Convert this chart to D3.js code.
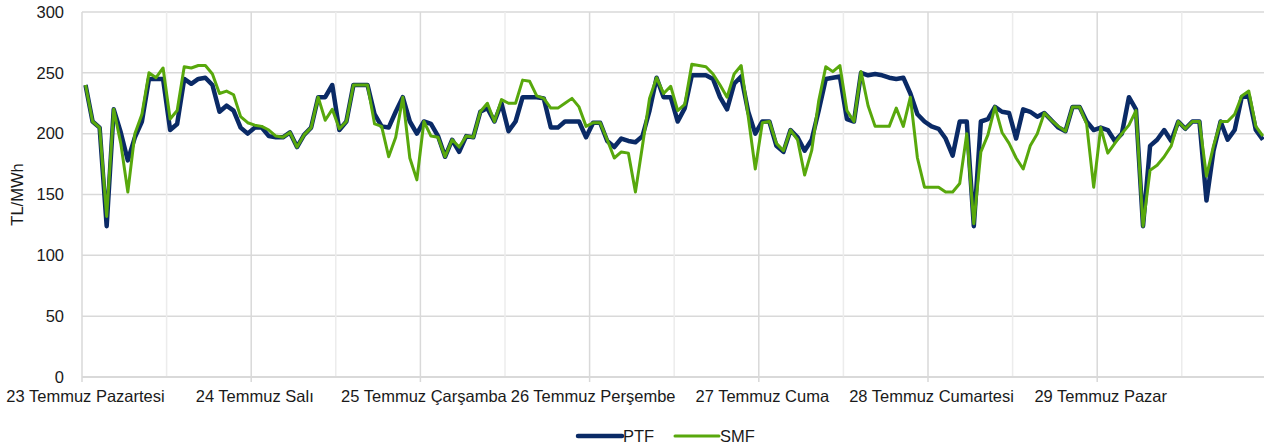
<!DOCTYPE html>
<html>
<head>
<meta charset="utf-8">
<script src="https://cdn.jsdelivr.net/npm/d3@7"></script>
<style>
    body { margin: 0; background: #fff; }
    text { font-family: "Liberation Sans", Arial, sans-serif; fill: #1a1a1a; }
</style>
</head>
<body>
<div id="chart"></div>
<script>
// day labels, one every 24 hours
const dayLabels = ["23 Temmuz Pazartesi", "24 Temmuz Salı", "25 Temmuz Çarşamba", "26 Temmuz Perşembe",
    "27 Temmuz Cuma", "28 Temmuz Cumartesi", "29 Temmuz Pazar"];

const yTicks = [0, 50, 100, 150, 200, 250, 300];

// hourly PTF (TL/MWh)
const ptf = [
    240, 210, 205, 124, 220, 201, 178, 197, 210, 245, 245, 245,
    203, 208, 245, 241, 245, 246, 240, 218, 223, 219, 205, 200,
    205, 205, 198, 197, 197, 201, 189, 199, 205, 230, 230, 240,
    203, 210, 240, 240, 240, 216, 206, 205, 218, 230, 210, 200,
    210, 208, 198, 181, 195, 185, 198, 197, 218, 221, 210, 225,
    202, 210, 230, 230, 230, 229, 205, 205, 210, 210, 210, 197,
    209, 209, 194, 189, 196, 194, 193, 198, 219, 246, 230, 230,
    210, 221, 248, 248, 248, 245, 230, 220, 241, 247, 218, 200,
    210, 210, 190, 185, 203, 197, 186, 195, 219, 245, 246, 247,
    212, 210, 250, 248, 249, 248, 246, 245, 246, 233, 216, 210,
    206, 204, 196, 182, 210, 210, 124, 210, 212, 222, 218, 217,
    196, 220, 218, 214, 217, 211, 205, 202, 222, 222, 210, 203,
    205, 203, 194, 200, 230, 220, 124, 190, 195, 203, 194, 210,
    204, 210, 210, 145, 186, 210, 195, 203, 230, 231, 203, 195
];

// hourly SMF (TL/MWh)
const smf = [
    240, 210, 205, 132, 220, 192, 152, 200, 216, 250, 246, 254,
    212, 219, 255, 254, 256, 256, 249, 233, 235, 232, 214, 209,
    207, 206, 203, 198, 197, 201, 189, 199, 205, 230, 211, 220,
    204, 210, 240, 240, 240, 208, 206, 181, 197, 230, 180, 162,
    210, 198, 197, 181, 195, 189, 198, 197, 218, 225, 210, 228,
    225, 225, 244, 243, 231, 229, 221, 221, 225, 229, 222, 206,
    209, 209, 195, 180, 185, 184, 152, 190, 229, 246, 233, 239,
    219, 224, 257, 256, 255, 249, 240, 230, 249, 256, 214, 171,
    209, 210, 192, 186, 203, 195, 166, 186, 227, 255, 251, 256,
    219, 210, 251, 223, 206, 206, 206, 221, 206, 230, 180, 156,
    156, 156, 152, 152, 159, 200, 126, 185, 199, 222, 201, 192,
    180, 171, 190, 200, 217, 211, 206, 202, 222, 222, 208, 156,
    205, 184, 192, 200, 207, 219, 124, 170, 174, 181, 190, 210,
    204, 210, 210, 165, 190, 210, 210, 216, 231, 235, 206, 198
];

class PriceChart {

    constructor(parentElement) {
        this.parentElement = parentElement;
        this.initVis();
    }

    initVis() {
        let vis = this;

        vis.width = 1264;
        vis.height = 448;
        vis.plot = {left: 82, top: 12, bottom: 377, step: 7.05};
        vis.fontSize = "16.5px";

        vis.svg = d3.select("#" + vis.parentElement).append("svg")
            .attr("width", vis.width)
            .attr("height", vis.height);

        vis.x = d3.scaleLinear()
            .domain([0, ptf.length])
            .range([vis.plot.left, vis.plot.left + ptf.length * vis.plot.step]);

        vis.y = d3.scaleLinear()
            .domain([0, 300])
            .range([vis.plot.bottom, vis.plot.top]);

        // horizontal gridlines
        vis.svg.append("g")
            .selectAll("line")
            .data(yTicks.slice(1))
            .enter()
            .append("line")
            .attr("x1", vis.plot.left)
            .attr("x2", vis.width)
            .attr("y1", d => vis.y(d))
            .attr("y2", d => vis.y(d))
            .style("stroke", "#d9d9d9")
            .style("stroke-width", 1.5);

        // vertical gridlines every 12 hours
        vis.svg.append("g")
            .selectAll("line")
            .data(d3.range(0, ptf.length + 1, 12))
            .enter()
            .append("line")
            .attr("x1", d => vis.x(d))
            .attr("x2", d => vis.x(d))
            .attr("y1", vis.plot.top)
            .attr("y2", vis.plot.bottom)
            .style("stroke", d => d % 24 == 0 ? "#d9d9d9" : "#ececec")
            .style("stroke-width", 1.5);

        // y axis labels
        vis.svg.append("g")
            .selectAll("text")
            .data(yTicks)
            .enter()
            .append("text")
            .attr("x", 64)
            .attr("y", d => vis.y(d))
            .attr("dy", "0.35em")
            .attr("text-anchor", "end")
            .style("font-size", vis.fontSize)
            .text(d => d);

        vis.svg.append("text")
            .attr("transform", `translate(23, ${vis.y(150)}) rotate(-90)`)
            .attr("text-anchor", "middle")
            .style("font-size", vis.fontSize)
            .text("TL/MWh");

        // x axis
        vis.svg.append("line")
            .attr("x1", vis.plot.left)
            .attr("x2", vis.width)
            .attr("y1", vis.plot.bottom)
            .attr("y2", vis.plot.bottom)
            .style("stroke", "#d9d9d9")
            .style("stroke-width", 2);

        vis.svg.append("g")
            .selectAll("line")
            .data(d3.range(0, ptf.length + 1, 24))
            .enter()
            .append("line")
            .attr("x1", d => vis.x(d))
            .attr("x2", d => vis.x(d))
            .attr("y1", vis.plot.bottom)
            .attr("y2", vis.plot.bottom + 5)
            .style("stroke", "#d9d9d9")
            .style("stroke-width", 1.5);

        vis.svg.append("g")
            .selectAll("text")
            .data(dayLabels)
            .enter()
            .append("text")
            .attr("x", (d, i) => vis.x(i * 24 + 0.5))
            .attr("y", 402)
            .attr("text-anchor", "middle")
            .style("font-size", vis.fontSize)
            .text(d => d);

        // series
        let line = d3.line()
            .x((d, i) => vis.x(i + 0.5))
            .y(d => vis.y(d));

        vis.svg.append("path")
            .datum(ptf)
            .attr("d", line)
            .style("fill", "none")
            .style("stroke", "#0a2a66")
            .style("stroke-width", 4.5)
            .style("stroke-linejoin", "round");

        vis.svg.append("path")
            .datum(smf)
            .attr("d", line)
            .style("fill", "none")
            .style("stroke", "#58a80c")
            .style("stroke-width", 3)
            .style("stroke-linejoin", "round");

        // legend
        let legend = [
            {name: "PTF", color: "#0a2a66", width: 4.5, x: 578},
            {name: "SMF", color: "#58a80c", width: 3, x: 675}
        ];

        let items = vis.svg.append("g")
            .selectAll("g")
            .data(legend)
            .enter()
            .append("g")
            .attr("transform", d => `translate(${d.x}, 436)`);

        items.append("line")
            .attr("x1", 0)
            .attr("x2", 44)
            .style("stroke", d => d.color)
            .style("stroke-width", d => d.width)
            .style("stroke-linecap", "round");

        items.append("text")
            .attr("x", 45)
            .attr("dy", "0.35em")
            .style("font-size", vis.fontSize)
            .text(d => d.name);
    }
}

new PriceChart("chart");
</script>
</body>
</html>
